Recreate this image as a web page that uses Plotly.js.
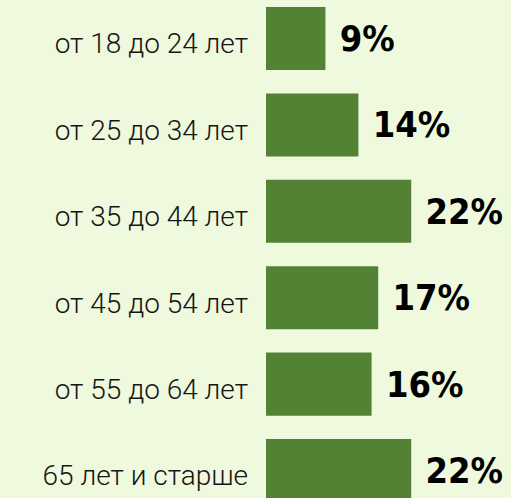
<!DOCTYPE html>
<html>
<head>
<meta charset="utf-8">
<script src="https://cdn.plot.ly/plotly-3.0.1.min.js"></script>
<style>
html,body{margin:0;padding:0;background:#eef9de;}
#chart{width:511px;height:498px;}
</style>
</head>
<body>
<div id="chart"></div>
<script>
var categories = ["от 18 до 24 лет", "от 25 до 34 лет", "от 35 до 44 лет", "от 45 до 54 лет", "от 55 до 64 лет", "65 лет и старше"];
var values = [9, 14, 22, 17, 16, 22];

var trace = {
  type: 'bar',
  orientation: 'h',
  x: values,
  y: categories,
  marker: {color: '#548235'},
  text: values.map(function(v){ return '\u00a0' + v + '%'; }),
  textposition: 'outside',
  constraintext: 'none',
  cliponaxis: false,
  outsidetextfont: {family: 'DejaVu Sans Condensed, Liberation Sans Narrow, Roboto, sans-serif', size: 36, color: '#000000', weight: 'bold'},
  hoverinfo: 'none'
};

var layout = {
  width: 511, height: 498,
  margin: {l: 266, r: 0, t: 0, b: 0, pad: 0},
  paper_bgcolor: '#eef9de',
  plot_bgcolor: '#eef9de',
  showlegend: false,
  bargap: 0.27,
  xaxis: {range: [0, 37.12], visible: false, fixedrange: true},
  yaxis: {
    type: 'category',
    range: [5.318, -0.446],
    autorange: false,
    showgrid: false, zeroline: false, showline: false,
    ticks: '',
    ticklabelstandoff: 17,
    ticklabelshift: -5,
    tickfont: {family: 'Roboto, sans-serif', size: 28, color: '#151515', weight: 300},
    automargin: false
  }
};

Plotly.newPlot('chart', [trace], layout, {displayModeBar: false, staticPlot: true});
</script>
</body>
</html>
